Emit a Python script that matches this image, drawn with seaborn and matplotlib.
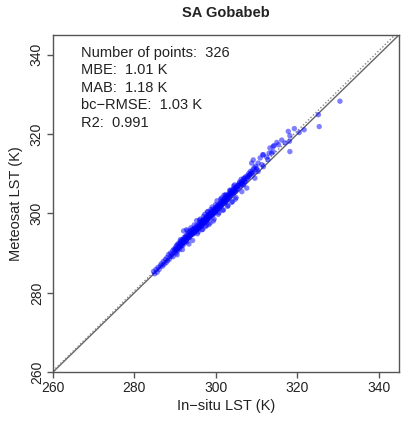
from matplotlib import pyplot as plt
import pandas as pd
import seaborn as sns

# in-situ LST (x) and Meteosat LST (y) in chunks
insitu_a = [284.7, 285.0, 285.3, 285.6, 285.8, 286.1, 286.4, 286.6, 286.9, 287.1,
            287.3, 287.6, 287.8, 288.0, 288.2, 288.4, 288.6, 288.8, 289.0, 289.2,
            289.4, 289.5, 289.7, 289.8, 290.0]
meteosat_a = [285.4, 284.8, 285.9, 285.2, 286.4, 285.9, 286.8, 287.3, 286.7, 287.9,
              287.2, 288.4, 287.6, 288.9, 288.1, 289.6, 288.5, 290.0, 289.2, 289.7,
              290.6, 289.1, 291.0, 290.2, 290.8]

insitu_b = [290.1, 290.2, 290.3, 290.4, 290.5, 290.6, 290.7, 290.8, 290.9, 291.0,
            291.1, 291.2, 291.3, 291.4, 291.5, 291.6, 291.7, 291.8, 291.9, 292.0,
            292.1, 292.2, 292.3, 292.4, 292.5, 292.6, 292.7, 292.8, 292.9, 293.0,
            293.1, 293.2, 293.3, 293.4, 293.5, 293.6, 293.7, 293.8, 293.9, 294.0,
            294.1, 294.2, 294.3, 294.4, 294.5, 294.6, 294.7, 294.8, 294.9, 295.0,
            290.5, 291.3, 292.1, 292.8, 293.4, 293.9, 294.3, 294.7, 291.8, 293.1]
meteosat_b = [291.3, 290.0, 291.8, 290.9, 292.1, 291.2, 290.6, 292.4, 291.5, 292.0,
              291.0, 292.8, 292.3, 291.7, 293.1, 292.0, 292.6, 293.4, 291.9, 293.3,
              292.7, 293.9, 292.5, 293.6, 294.1, 293.0, 294.4, 293.5, 292.9, 294.6,
              294.0, 293.8, 295.1, 294.3, 293.9, 295.2, 294.6, 295.7, 294.5, 295.3,
              294.9, 296.0, 295.2, 294.8, 295.9, 295.4, 296.3, 295.1, 296.0, 295.8,
              289.6, 293.4, 295.6, 295.9, 292.3, 296.4, 293.2, 297.1, 290.9, 295.6]

insitu_c = [295.1, 295.2, 295.3, 295.4, 295.5, 295.6, 295.7, 295.8, 295.9, 296.0,
            296.1, 296.2, 296.3, 296.4, 296.5, 296.6, 296.7, 296.8, 296.9, 297.0,
            297.1, 297.2, 297.3, 297.4, 297.5, 297.6, 297.7, 297.8, 297.9, 298.0,
            298.1, 298.2, 298.3, 298.4, 298.5, 298.6, 298.7, 298.8, 298.9, 299.0,
            299.1, 299.2, 299.3, 299.4, 299.5, 299.6, 299.7, 299.8, 299.9, 300.0,
            295.3, 295.7, 296.2, 296.6, 297.0, 297.5, 297.9, 298.3, 298.8, 299.4,
            295.5, 296.0, 296.8, 297.3, 297.7, 298.1, 298.6, 299.1, 299.6, 299.9,
            295.9, 296.4, 297.2, 297.8, 298.4, 298.9, 299.3, 299.7, 296.9, 298.0]
meteosat_c = [296.4, 295.8, 296.9, 296.1, 295.9, 297.0, 296.5, 296.2, 297.4, 296.8,
              297.2, 296.6, 297.9, 297.1, 296.8, 297.6, 298.0, 297.3, 298.2, 297.7,
              298.4, 297.9, 298.1, 298.9, 297.8, 298.7, 299.0, 298.4, 299.3, 298.6,
              299.5, 298.8, 299.8, 299.1, 298.9, 300.0, 299.4, 300.3, 299.6, 299.9,
              300.4, 299.6, 301.0, 300.2, 299.9, 300.8, 300.5, 301.2, 300.3, 301.4,
              298.2, 295.4, 298.6, 295.9, 299.3, 296.7, 300.4, 297.2, 301.0, 298.1,
              294.9, 298.3, 296.0, 299.8, 297.0, 300.5, 297.6, 301.6, 298.6, 302.2,
              296.7, 297.8, 298.3, 298.2, 299.7, 300.4, 300.0, 300.9, 298.4, 299.0]

insitu_d = [300.1, 300.2, 300.3, 300.4, 300.5, 300.6, 300.7, 300.8, 300.9, 301.0,
            301.1, 301.2, 301.3, 301.4, 301.5, 301.6, 301.7, 301.8, 301.9, 302.0,
            302.1, 302.2, 302.3, 302.4, 302.5, 302.6, 302.7, 302.8, 302.9, 303.0,
            303.1, 303.2, 303.3, 303.4, 303.5, 303.6, 303.7, 303.8, 303.9, 304.0,
            304.1, 304.2, 304.3, 304.4, 304.5, 304.6, 304.7, 304.8, 304.9, 305.0,
            300.3, 300.8, 301.4, 301.9, 302.5, 303.0, 303.6, 304.1, 304.6, 305.0,
            300.6, 301.2, 301.7, 302.3, 302.9, 303.4, 303.9, 304.4, 304.8, 302.0]
meteosat_d = [301.6, 300.9, 301.2, 302.0, 301.3, 301.9, 301.0, 302.4, 301.7, 302.1,
              302.6, 301.8, 302.3, 303.0, 302.1, 302.8, 303.4, 302.5, 303.1, 302.9,
              303.5, 302.7, 303.9, 303.2, 303.0, 304.2, 303.6, 303.4, 304.5, 303.8,
              304.3, 304.9, 304.0, 304.6, 305.2, 304.4, 305.0, 305.6, 304.8, 305.3,
              305.1, 306.0, 305.5, 305.2, 306.3, 305.8, 305.4, 306.5, 306.1, 305.9,
              303.2, 300.2, 303.9, 300.9, 304.8, 302.0, 305.9, 303.0, 307.2, 304.0,
              299.8, 303.6, 300.8, 304.5, 301.8, 305.8, 302.8, 306.9, 303.6, 304.6]

insitu_e = [305.1, 305.3, 305.5, 305.7, 305.9, 306.0, 306.1, 306.3, 306.4, 306.5,
            306.7, 306.8, 306.9, 307.1, 307.2, 307.3, 307.5, 307.6, 307.7, 307.9,
            308.0, 308.1, 308.3, 308.5, 308.7, 308.8, 308.9, 309.1, 309.2, 309.2,
            309.4, 309.6, 309.8, 305.4, 305.8, 306.2, 306.6, 307.0, 308.4, 309.9]
meteosat_e = [306.6, 306.1, 307.2, 306.9, 307.6, 306.8, 307.4, 308.0, 305.5, 307.5,
              308.3, 307.2, 308.9, 308.0, 308.1, 309.2, 308.6, 306.4, 309.5, 309.0,
              309.3, 310.1, 309.6, 310.6, 310.0, 312.7, 310.4, 311.0, 313.5, 310.2,
              311.5, 308.9, 311.9, 307.1, 307.9, 308.6, 307.6, 308.8, 309.8, 311.0]

insitu_f = [310.0, 310.4, 310.4, 310.9, 311.3, 311.5, 311.7, 311.7, 312.5, 313.1,
            313.3, 313.7, 314.1, 314.1, 314.3, 315.0, 315.4, 317.0, 317.8, 318.1,
            318.2, 318.2, 320.5, 321.7, 325.2, 325.4, 330.5, 312.8, 316.2, 319.3]
meteosat_f = [311.4, 312.7, 310.6, 314.0, 312.3, 314.8, 311.8, 314.8, 314.2, 315.2,
              316.5, 315.2, 315.6, 316.9, 317.1, 317.9, 317.3, 317.8, 320.7, 318.2,
              319.6, 315.6, 320.4, 321.1, 324.9, 321.9, 328.3, 313.6, 318.5, 321.4]

# dotted fit line (two points)
fit_x = [260.0, 344.0]
fit_y = [260.3, 345.0]

ticks = [260, 280, 300, 320, 340]
stats_lines = ["Number of points:  326",
               "MBE:  1.01 K",
               "MAB:  1.18 K",
               "bc\u2212RMSE:  1.03 K",
               "R2:  0.991"]

data = pd.DataFrame({
    "insitu": insitu_a + insitu_b + insitu_c + insitu_d + insitu_e + insitu_f,
    "meteosat": meteosat_a + meteosat_b + meteosat_c + meteosat_d + meteosat_e + meteosat_f,
})

# -----------------------------

sns.set_style("ticks")
plt.rcParams['font.family'] = ['Liberation Sans', 'DejaVu Sans']

fig = plt.figure(figsize=(4.01, 4.21), dpi=100)
ax = fig.add_axes([0.132, 0.116, 0.863, 0.801])

edge = '#555555'
ax.axline((260, 260), slope=1, color='#666666', lw=1, zorder=1)
ax.axline((fit_x[0], fit_y[0]), (fit_x[1], fit_y[1]), color='#888888', lw=1,
          linestyle=(0, (1, 1.5)), zorder=1)

sns.scatterplot(data=data, x="insitu", y="meteosat", ax=ax, color='#0000ff',
                alpha=0.5, s=15, edgecolor='none', linewidth=0, zorder=2)

ax.set_xlim(260, 345)
ax.set_ylim(260, 345)
ax.set_xticks(ticks)
ax.set_yticks(ticks)
for s in ax.spines.values():
    s.set_color(edge)
    s.set_linewidth(1)
ax.tick_params(colors=edge, labelcolor='#222222', length=4, width=1,
               labelsize=10, pad=2.5)
for lab in ax.get_yticklabels():
    lab.set_rotation(90)
    lab.set_va('center')

ax.set_xlabel("In\u2212situ LST (K)", fontsize=10.5, color='#222222', labelpad=3)
ax.set_ylabel("Meteosat LST (K)", fontsize=10.5, color='#222222', labelpad=5)
fig.suptitle("SA Gobabeb", x=0.5635, y=0.969, va='center', fontsize=10.5,
             fontweight='bold', color='#222222')

for i, line in enumerate(stats_lines):
    ax.text(0.081, 0.947 - i * 0.052, line, transform=ax.transAxes,
            fontsize=10.5, va='center', ha='left', color='#222222')

path = "out.png"
plt.savefig(path, dpi=100)
print(f"Saved figure to {path}.")
plt.close()
